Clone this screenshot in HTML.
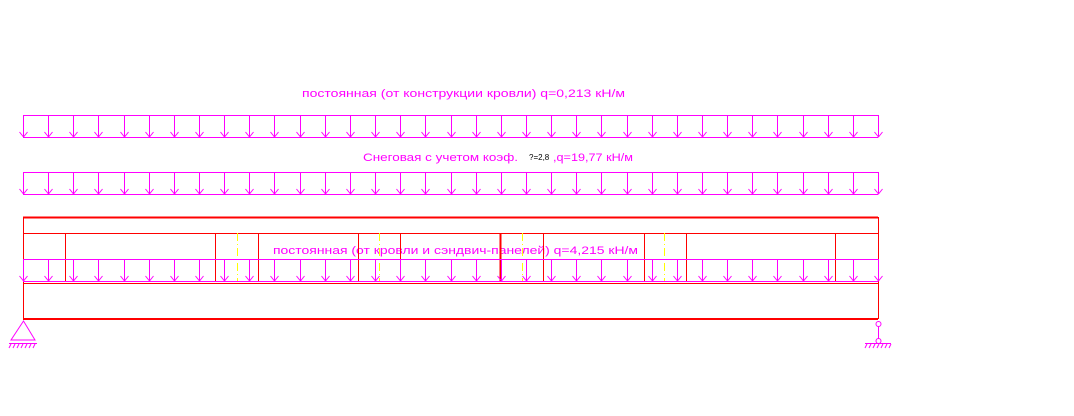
<!DOCTYPE html>
<html><head><meta charset="utf-8"><style>html,body{margin:0;padding:0;background:#fff;width:1074px;height:416px;overflow:hidden}</style></head>
<body>
<svg id="s" width="1074" height="416" xmlns="http://www.w3.org/2000/svg" font-family="Liberation Sans, DejaVu Sans, sans-serif">
<g fill="#f0f" font-size="11">
<text x="302" y="97" textLength="323" lengthAdjust="spacingAndGlyphs">постоянная (от конструкции кровли) q=0,213 кН/м</text>
<text x="363" y="161" textLength="155" lengthAdjust="spacingAndGlyphs">Снеговая с учетом коэф.</text>
<text x="529" y="160" font-size="8" fill="#000">?=2,8</text>
<text x="553" y="161" textLength="80" lengthAdjust="spacingAndGlyphs">,q=19,77 кН/м</text>
<text x="273" y="254" textLength="365" lengthAdjust="spacingAndGlyphs">постоянная (от кровли и сэндвич-панелей) q=4,215 кН/м</text>
</g>
<g id="red" stroke="#f00" fill="none">
<line x1="23" y1="217.5" x2="878" y2="217.5" stroke-width="2"/>
<line x1="23" y1="233.5" x2="878" y2="233.5"/>
<line x1="23.5" y1="217" x2="23.5" y2="319"/>
<line x1="878.5" y1="217" x2="878.5" y2="319"/>
<line x1="23" y1="283.5" x2="878" y2="283.5"/>
<line x1="23" y1="319" x2="878" y2="319" stroke-width="2"/>
</g>
<g id="loads" stroke="#f0f" fill="#f0f"></g>
<g stroke="#f0f" fill="none">
<path d="M23.5 321 L11 340 L35 340 Z"/>
<line x1="9" y1="343.5" x2="37" y2="343.5"/>
<circle cx="878.5" cy="324" r="2.5"/>
<line x1="878.5" y1="327" x2="878.5" y2="339"/>
<circle cx="878.5" cy="341" r="2.5"/>
<line x1="865" y1="343.5" x2="891" y2="343.5"/>
</g>
<g id="hatch" stroke="#f0f"></g>
</svg>
<script>
var NS="http://www.w3.org/2000/svg";
function el(p,t,a){var e=document.createElementNS(NS,t);for(var k in a)e.setAttribute(k,a[k]);p.appendChild(e);return e;}
var L=document.getElementById('loads'),R=document.getElementById('red'),H=document.getElementById('hatch');
[[65,0],[215,0],[258,0],[358,0],[400,0],[500,1],[543,0],[644,0],[686,0],[835,0]].forEach(function(v){
 el(R,'line',{x1:v[0]+.5,y1:233,x2:v[0]+.5,y2:281,'stroke-width':v[1]?2:1});});
[237,379,522,664].forEach(function(x){el(R,'line',{x1:x+.5,y1:233,x2:x+.5,y2:282,stroke:'#ff0','stroke-dasharray':'8,3,1,3'});});
[[115,137],[172,194],[259,281]].forEach(function(b){
 var t=b[0],y=b[1];
 el(L,'line',{x1:23,y1:t+.5,x2:878,y2:t+.5});
 el(L,'line',{x1:23,y1:y+.5,x2:878,y2:y+.5});
 for(var i=0;i<35;i++){var x=Math.round(23+i*855/34)+.5;
  el(L,'line',{x1:x,y1:t,x2:x,y2:y});
  el(L,'path',{d:'M'+(x-4)+' '+(y-5)+' L'+x+' '+y+' L'+(x+4)+' '+(y-5),fill:'none'});}
});
for(var i=0;i<7;i++){el(H,'line',{x1:11+i*4,y1:344,x2:9+i*4,y2:348});el(H,'line',{x1:867+i*4,y1:344,x2:865+i*4,y2:348});}
</script>
</body></html>
